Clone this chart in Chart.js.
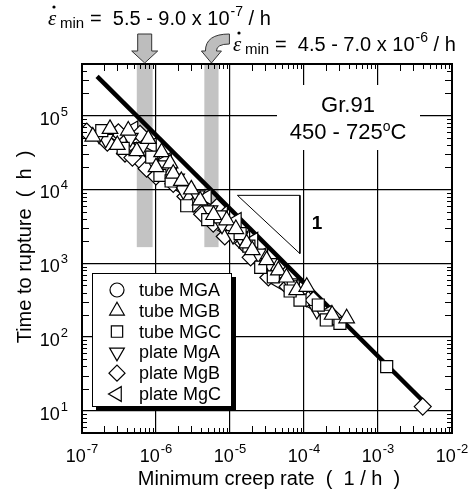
<!DOCTYPE html>
<html>
<head>
<meta charset="utf-8">
<script src="https://cdn.jsdelivr.net/npm/chart.js@4.4.0/dist/chart.umd.min.js"></script>
<style>
html, body { margin: 0; padding: 0; background: #fff; }
canvas { display: block; }
</style>
</head>
<body>
<canvas id="creepChart" width="470" height="495"></canvas>
<script>
// Ticks / axes
const xDecades = [1e-7, 1e-6, 1e-5, 1e-4, 1e-3, 1e-2];
const xTickExp = ['-7', '-6', '-5', '-4', '-3', '-2'];
const yDecades = [1e1, 1e2, 1e3, 1e4, 1e5];
const yTickExp = ['1', '2', '3', '4', '5'];

// Gray bands (minimum creep rate ranges)
const bandLow = [5.5e-7, 4.5e-6];
const bandHigh = [9.0e-7, 7.0e-6];
const bandBottom = 1650;

// Fitted line and slope triangle
const fitX = [1.6e-7, 3.9e-3];
const fitY = [3.4e5, 14.1];
const slopeX = [1.26e-5, 8.8e-5, 8.8e-5, 1.26e-5];
const slopeY = [8300, 8300, 1350, 8300];

// Data series
const mgaX = [1.5e-6, 4.0e-6, 3.0e-5];
const mgaY = [1.9e4, 6000, 900];

const mgbX = [2.39e-7, 4.22e-7, 7.87e-7, 1.19e-6, 1.55e-6, 1.71e-6, 3.94e-6, 9.02e-6, 1.68e-5, 3.13e-5, 7.96e-5, 1.09e-4, 3.77e-4,
    1.4e-7, 3.0e-7, 5.5e-7, 1.0e-6, 2.2e-6, 3.0e-6, 6.0e-6, 1.2e-5, 2.0e-5, 4.5e-5, 5.8e-5, 2.4e-4];
const mgbY = [6.61e4, 6.27e4, 4.84e4, 3.19e4, 2.25e4, 1.63e4, 7100, 3810, 1850, 1100, 432, 479, 179,
    5.2e4, 4.0e4, 3.3e4, 2.0e4, 1.3e4, 1.0e4, 4500, 2900, 1500, 800, 640, 200];

const mgcX = [1.85e-7, 8.75e-7, 1.13e-6, 7.33e-6, 1.37e-5, 3.85e-5, 8.83e-5, 7.16e-5, 1.56e-4, 3.06e-4, 1.31e-3,
    3.6e-7, 1.6e-6, 2.6e-6, 5.0e-6, 1.8e-5, 2.6e-5, 6.5e-5, 2.0e-4];
const mgcY = [6.27e4, 2.73e4, 1.55e4, 4230, 2520, 653, 316, 479, 271, 153, 39.7,
    3.6e4, 1.3e4, 6000, 3900, 1700, 880, 420, 170];

const plateAX = [2.09e-7, 6.41e-7, 1.32e-6, 2.34e-6, 5.37e-6, 1.37e-5, 2.41e-5, 6.47e-5, 1.49e-4,
    1.7e-7, 4.5e-7, 9.0e-7, 1.9e-6, 3.6e-6, 7.8e-6, 1.1e-5, 3.4e-5, 9.0e-5, 1.9e-4];
const plateAY = [4.84e4, 3.73e4, 2.11e4, 9700, 5200, 2270, 1350, 532, 232,
    5.5e4, 5.0e4, 2.5e4, 1.4e4, 8300, 3300, 2400, 1000, 380, 200];

const plateBX = [1.16e-7, 3.10e-7, 6.08e-7, 3.81e-7, 6.41e-7, 7.48e-7, 1.71e-6, 3.19e-6, 6.61e-6, 1.0e-5, 5.94e-6, 1.51e-5, 4.28e-5, 1.09e-4, 1.34e-4, 2.49e-4, 4.02e-3,
    2.2e-7, 4.8e-7, 1.0e-6, 2.5e-6, 4.2e-6, 8.5e-6, 1.9e-5, 3.3e-5, 6.0e-5, 9.0e-5];
const plateBY = [6.08e4, 5.94e4, 5.66e4, 3.06e4, 2.34e4, 1.91e4, 1.19e4, 6410, 5770, 2790, 3440, 1850, 891, 333, 316, 188, 11.4,
    4.3e4, 2.7e4, 1.5e4, 8000, 4600, 2300, 1200, 640, 480, 430];

const plateCX = [3.44e-7, 4.93e-7, 8.75e-7, 1.07e-6, 8.30e-7, 2.88e-6, 4.84e-6, 1.23e-5, 9.02e-6, 2.06e-5, 5.25e-5, 4.74e-5, 7.96e-5, 2.03e-4,
    2.6e-7, 6.0e-7, 1.4e-6, 2.0e-6, 4.0e-6, 8.0e-6, 1.6e-5, 2.8e-5, 3.6e-5, 1.2e-4];
const plateCY = [4.89e4, 6.61e4, 3.93e4, 1.81e4, 2.22e4, 8740, 7870, 3810, 2790, 2050, 621, 532, 389, 209,
    5.7e4, 4.4e4, 2.5e4, 1.1e4, 5300, 4700, 2200, 1300, 760, 290];

const series = [
    { label: 'tube MGA', style: 'circle', rot: 0, r: 7.5, xs: mgaX, ys: mgaY, order: 2 },
    { label: 'tube MGB', style: 'triangle', rot: 0, r: 9, xs: mgbX, ys: mgbY, order: 1 },
    { label: 'tube MGC', style: 'rect', rot: 0, r: 8.5, xs: mgcX, ys: mgcY, order: 1 },
    { label: 'plate MgA', style: 'triangle', rot: 180, r: 9, xs: plateAX, ys: plateAY, order: 1 },
    { label: 'plate MgB', style: 'rectRot', rot: 0, r: 8.5, xs: plateBX, ys: plateBY, order: 1 },
    { label: 'plate MgC', style: 'triangle', rot: -90, r: 9, xs: plateCX, ys: plateCY, order: 1 }
];

const FONT = '"Liberation Sans", Arial, Helvetica, sans-serif';

function toPoints(xs, ys) {
    return xs.map((x, i) => ({ x: x, y: ys[i] }));
}

// "10" with a superscript exponent
function drawPow(ctx, x, y, exp, align) {
    ctx.font = '18px ' + FONT;
    const wb = ctx.measureText('10').width;
    ctx.font = '13px ' + FONT;
    const we = ctx.measureText(exp).width;
    const x0 = align === 'center' ? x - (wb + we + 1) / 2 : x - wb - we - 1;
    ctx.textAlign = 'left';
    ctx.textBaseline = 'alphabetic';
    ctx.font = '18px ' + FONT;
    ctx.fillText('10', x0, y);
    ctx.font = '13px ' + FONT;
    ctx.fillText(exp, x0 + wb + 1, y - 9);
}

// epsilon-dot min = ... x 10^exp / h
function drawRate(ctx, x, y, text, exp) {
    ctx.textAlign = 'left';
    ctx.textBaseline = 'alphabetic';
    ctx.font = 'italic 21px "Liberation Serif", "DejaVu Serif", serif';
    ctx.fillText('\u03b5', x, y);
    ctx.beginPath();
    ctx.arc(x + 6, y - 18, 1.6, 0, Math.PI * 2);
    ctx.fill();
    ctx.font = '15px ' + FONT;
    ctx.fillText('min', x + 12, y + 3);
    ctx.font = '20px ' + FONT;
    let cx = x + 42;
    ctx.fillText(text, cx, y);
    cx += ctx.measureText(text).width + 1;
    ctx.font = '14px ' + FONT;
    ctx.fillText(exp, cx, y - 9);
    cx += ctx.measureText(exp).width;
    ctx.font = '20px ' + FONT;
    ctx.fillText(' / h', cx, y);
}

const decor = {
    id: 'decor',
    beforeDraw(chart) {
        const { ctx, chartArea, scales: { x, y } } = chart;
        ctx.save();
        ctx.fillStyle = '#c3c3c3';
        for (let i = 0; i < bandLow.length; i++) {
            const x1 = x.getPixelForValue(bandLow[i]);
            const x2 = x.getPixelForValue(bandHigh[i]);
            const yb = y.getPixelForValue(bandBottom);
            ctx.fillRect(x1, chartArea.top, x2 - x1, yb - chartArea.top);
        }
        ctx.restore();
    },
    beforeDatasetsDraw(chart) {
        const { ctx, chartArea } = chart;
        ctx.save();
        // white box under the material label
        ctx.fillStyle = '#fff';
        ctx.fillRect(chartArea.left + 195, chartArea.top + 21, 143, 65);
        ctx.fillStyle = '#000';
        ctx.textAlign = 'center';
        ctx.textBaseline = 'middle';
        const cx = chartArea.left + 266;
        ctx.font = '22px ' + FONT;
        ctx.fillText('Gr.91', cx, chartArea.top + 42);
        const a = '450 - 725', c = 'C';
        const wa = ctx.measureText(a).width, wc = ctx.measureText(c).width;
        ctx.font = '14px ' + FONT;
        const wo = ctx.measureText('o').width;
        let sx = cx - (wa + wo + wc) / 2;
        ctx.textAlign = 'left';
        ctx.font = '22px ' + FONT;
        ctx.fillText(a, sx, chartArea.top + 69);
        ctx.font = '14px ' + FONT;
        ctx.fillText('o', sx + wa, chartArea.top + 63);
        ctx.font = '22px ' + FONT;
        ctx.fillText(c, sx + wa + wo, chartArea.top + 69);
        // slope label
        ctx.font = 'bold 19px ' + FONT;
        ctx.textAlign = 'center';
        ctx.fillText('1', chartArea.left + 235, chartArea.top + 160);
        ctx.restore();
    },
    afterDatasetsDraw(chart) {
        const { ctx, chartArea: ca, scales: { x, y } } = chart;
        ctx.save();
        ctx.strokeStyle = '#000';
        ctx.fillStyle = '#000';

        // minor ticks, inward on all four sides
        ctx.lineWidth = 1;
        ctx.beginPath();
        for (let d = -7; d < -2; d++) {
            for (let k = 2; k <= 9; k++) {
                const px = Math.round(x.getPixelForValue(k * Math.pow(10, d))) + 0.5;
                const len = k <= 3 ? 7 : 5;
                ctx.moveTo(px, ca.bottom); ctx.lineTo(px, ca.bottom - len);
                ctx.moveTo(px, ca.top); ctx.lineTo(px, ca.top + len);
            }
        }
        for (let d = 0; d <= 5; d++) {
            for (let k = 2; k <= 9; k++) {
                const v = k * Math.pow(10, d);
                if (v <= 5 || v >= 5e5) continue;
                const py = Math.round(y.getPixelForValue(v)) + 0.5;
                const len = k <= 3 ? 7 : 5;
                ctx.moveTo(ca.left, py); ctx.lineTo(ca.left + len, py);
                ctx.moveTo(ca.right, py); ctx.lineTo(ca.right - len, py);
            }
        }
        ctx.stroke();

        // frame
        ctx.lineWidth = 2;
        ctx.strokeRect(ca.left, ca.top, ca.right - ca.left, ca.bottom - ca.top);

        // tick labels
        xDecades.forEach((v, i) => drawPow(ctx, x.getPixelForValue(v), ca.bottom + 29, xTickExp[i], 'center'));
        yDecades.forEach((v, i) => drawPow(ctx, ca.left - 14, y.getPixelForValue(v) + 9, yTickExp[i], 'right'));

        // axis titles
        ctx.textAlign = 'center';
        ctx.textBaseline = 'middle';
        ctx.font = '20px ' + FONT;
        ctx.fillText('Minimum creep rate  (  1 / h  )', (ca.left + ca.right) / 2 + 2, ca.bottom + 46);
        ctx.save();
        ctx.translate(25, 247);
        ctx.rotate(-Math.PI / 2);
        ctx.fillText('Time to rupture  (  h  )', 0, 0);
        ctx.restore();

        // legend
        const lx = ca.left + 10, ly = ca.top + 209, lw = 140, lh = 134;
        ctx.fillRect(lx + 4, ly + 4, lw, lh);
        ctx.fillStyle = '#fff';
        ctx.fillRect(lx, ly, lw, lh);
        ctx.lineWidth = 1;
        ctx.strokeRect(lx + 0.5, ly + 0.5, lw - 1, lh - 1);
        series.forEach((s, i) => {
            const ry = ly + 17 + i * 20.8;
            ctx.fillStyle = '#fff';
            ctx.strokeStyle = '#000';
            ctx.lineWidth = 1.2;
            Chart.helpers.drawPoint(ctx, { pointStyle: s.style, rotation: s.rot, radius: s.r - 0.5, borderWidth: 1.2 }, lx + 25, ry);
            ctx.fillStyle = '#000';
            ctx.font = '18px ' + FONT;
            ctx.textAlign = 'left';
            ctx.textBaseline = 'middle';
            ctx.fillText(s.label, lx + 47, ry + 1);
        });

        // arrows pointing at the bands
        ctx.fillStyle = '#bdbdbd';
        ctx.strokeStyle = '#333';
        ctx.lineWidth = 1;
        const a1 = (x.getPixelForValue(bandLow[0]) + x.getPixelForValue(bandHigh[0])) / 2;
        const t = ca.top - 1;
        ctx.beginPath();
        ctx.moveTo(a1 - 7, t - 29);
        ctx.lineTo(a1 + 7, t - 29);
        ctx.lineTo(a1 + 7, t - 12);
        ctx.lineTo(a1 + 13, t - 12);
        ctx.lineTo(a1, t);
        ctx.lineTo(a1 - 13, t - 12);
        ctx.lineTo(a1 - 7, t - 12);
        ctx.closePath();
        ctx.fill();
        ctx.stroke();

        const a2 = (x.getPixelForValue(bandLow[1]) + x.getPixelForValue(bandHigh[1])) / 2;
        ctx.beginPath();
        ctx.moveTo(a2 + 18, t - 29);
        ctx.lineTo(a2 + 18, t - 19);
        ctx.quadraticCurveTo(a2 + 5, t - 19, a2 + 5, t - 12);
        ctx.lineTo(a2 + 10, t - 12);
        ctx.lineTo(a2, t);
        ctx.lineTo(a2 - 10, t - 12);
        ctx.lineTo(a2 - 6, t - 12);
        ctx.quadraticCurveTo(a2 - 6, t - 29, a2 + 18, t - 29);
        ctx.closePath();
        ctx.fill();
        ctx.stroke();

        // rate annotations
        ctx.fillStyle = '#000';
        drawRate(ctx, 48, 25, '=  5.5 - 9.0 x 10', '-7');
        drawRate(ctx, 233, 51, '=  4.5 - 7.0 x 10', '-6');
        ctx.restore();
    }
};

const datasets = series.map(s => ({
    label: s.label,
    data: toPoints(s.xs, s.ys),
    pointStyle: s.style,
    pointRotation: s.rot,
    pointRadius: s.r,
    backgroundColor: '#fff',
    borderColor: '#000',
    borderWidth: 1.2,
    order: s.order
}));

datasets.push({
    type: 'line',
    label: 'fit',
    data: toPoints(fitX, fitY),
    borderColor: '#000',
    borderWidth: 4.5,
    pointRadius: 0,
    showLine: true,
    order: 5
});

datasets.push({
    type: 'line',
    label: 'slope',
    data: toPoints(slopeX, slopeY),
    borderColor: '#000',
    borderWidth: 1,
    pointRadius: 0,
    showLine: true,
    order: 6
});

const ctx = document.getElementById('creepChart').getContext('2d');
const creepChart = new Chart(ctx, {
    type: 'scatter',
    data: { datasets: datasets },
    options: {
        responsive: false,
        animation: false,
        layout: { padding: { left: 82, right: 18, top: 64, bottom: 62 } },
        plugins: {
            legend: { display: false },
            tooltip: { enabled: false }
        },
        scales: {
            x: {
                type: 'logarithmic',
                min: 1e-7,
                max: 1e-2,
                afterBuildTicks: scale => { scale.ticks = xDecades.map(v => ({ value: v })); },
                ticks: { display: false },
                grid: { color: '#000', lineWidth: 1.2, drawTicks: false },
                border: { display: false }
            },
            y: {
                type: 'logarithmic',
                min: 5,
                max: 5e5,
                afterBuildTicks: scale => { scale.ticks = yDecades.map(v => ({ value: v })); },
                ticks: { display: false },
                grid: { color: '#000', lineWidth: 1.2, drawTicks: false },
                border: { display: false }
            }
        }
    },
    plugins: [decor]
});
</script>
</body>
</html>
